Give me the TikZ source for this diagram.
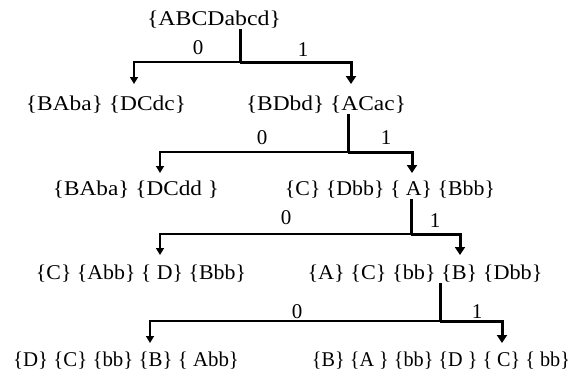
\documentclass[tikz,border=0pt]{standalone}
\usepackage{fontspec}
\usepackage{graphicx}
\setmainfont{Liberation Serif}
\usetikzlibrary{arrows.meta}
\newcommand{\fitw}[2]{\resizebox{#1pt}{\height}{#2}}
\begin{document}
\begin{tikzpicture}[x=1pt,y=-1pt,
  lbl/.style={font=\fontsize{21}{23}\selectfont, inner sep=0pt, anchor=center},
  thinln/.style={line width=1.6pt},
  thickln/.style={line width=3pt},
  tipthin/.style={-{Triangle[length=7pt,width=8pt]}},
  tipthick/.style={-{Triangle[length=8pt,width=10pt]}}]
\useasboundingbox (0,0) rectangle (577,376);
% level 0
\node[lbl] (L0) at (214,20) {\fitw{134}{\{ABCDabcd\}}};
\coordinate (j0) at (240,62);
\coordinate (a0l) at (134,84);
\coordinate (a0r) at (351,84);
\draw[thickln] (L0.south -| j0) -- (j0);
\draw[thinln,tipthin] (j0) -| (a0l);
\draw[thickln,tipthick] (j0) -| (a0r);
\node[lbl] (z0) at (198,48) {0};
\node[lbl] (o0) at (303,50) {1};
% level 1
\node[lbl] (L1a) at (106,105) {\fitw{160}{\{BAba\} \{DCdc\}}};
\node[lbl] (L1b) at (326,105) {\fitw{160}{\{BDbd\} \{ACac\}}};
\coordinate (j1) at (348,152);
\coordinate (a1l) at (160,173);
\coordinate (a1r) at (412,173);
\draw[thickln] (L1b.south -| j1) -- (j1);
\draw[thinln,tipthin] (j1) -| (a1l);
\draw[thickln,tipthick] (j1) -| (a1r);
\node[lbl] (z1) at (262,138) {0};
\node[lbl] (o1) at (386,138) {1};
% level 2
\node[lbl] (L2a) at (136,190) {\fitw{166}{\{BAba\} \{DCdd \}}};
\node[lbl] (L2b) at (390,190) {\fitw{210}{\{C\} \{Dbb\} \{ A\} \{Bbb\}}};
\coordinate (j2) at (411,234);
\coordinate (a2l) at (160,255);
\coordinate (a2r) at (460,255);
\draw[thickln] (L2b.south -| j2) -- (j2);
\draw[thinln,tipthin] (j2) -| (a2l);
\draw[thickln,tipthick] (j2) -| (a2r);
\node[lbl] (z2) at (286,218) {0};
\node[lbl] (o2) at (435,221) {1};
% level 3
\node[lbl] (L3a) at (141,274) {\fitw{210}{\{C\} \{Abb\} \{ D\} \{Bbb\}}};
\node[lbl] (L3b) at (425,274) {\fitw{235}{\{A\} \{C\} \{bb\} \{B\} \{Dbb\}}};
\coordinate (j3) at (440,321);
\coordinate (a3l) at (150,343);
\coordinate (a3r) at (502,343);
\draw[thickln] (L3b.south -| j3) -- (j3);
\draw[thinln,tipthin] (j3) -| (a3l);
\draw[thickln,tipthick] (j3) -| (a3r);
\node[lbl] (z3) at (297,312) {0};
\node[lbl] (o3) at (477,312) {1};
% level 4
\node[lbl] (L4a) at (126,361) {\fitw{226}{\{D\} \{C\} \{bb\} \{B\} \{ Abb\}}};
\node[lbl] (L4b) at (441,361) {\fitw{258}{\{B\} \{A \} \{bb\} \{D \} \{ C\} \{ bb\}}};
\end{tikzpicture}
\end{document}
